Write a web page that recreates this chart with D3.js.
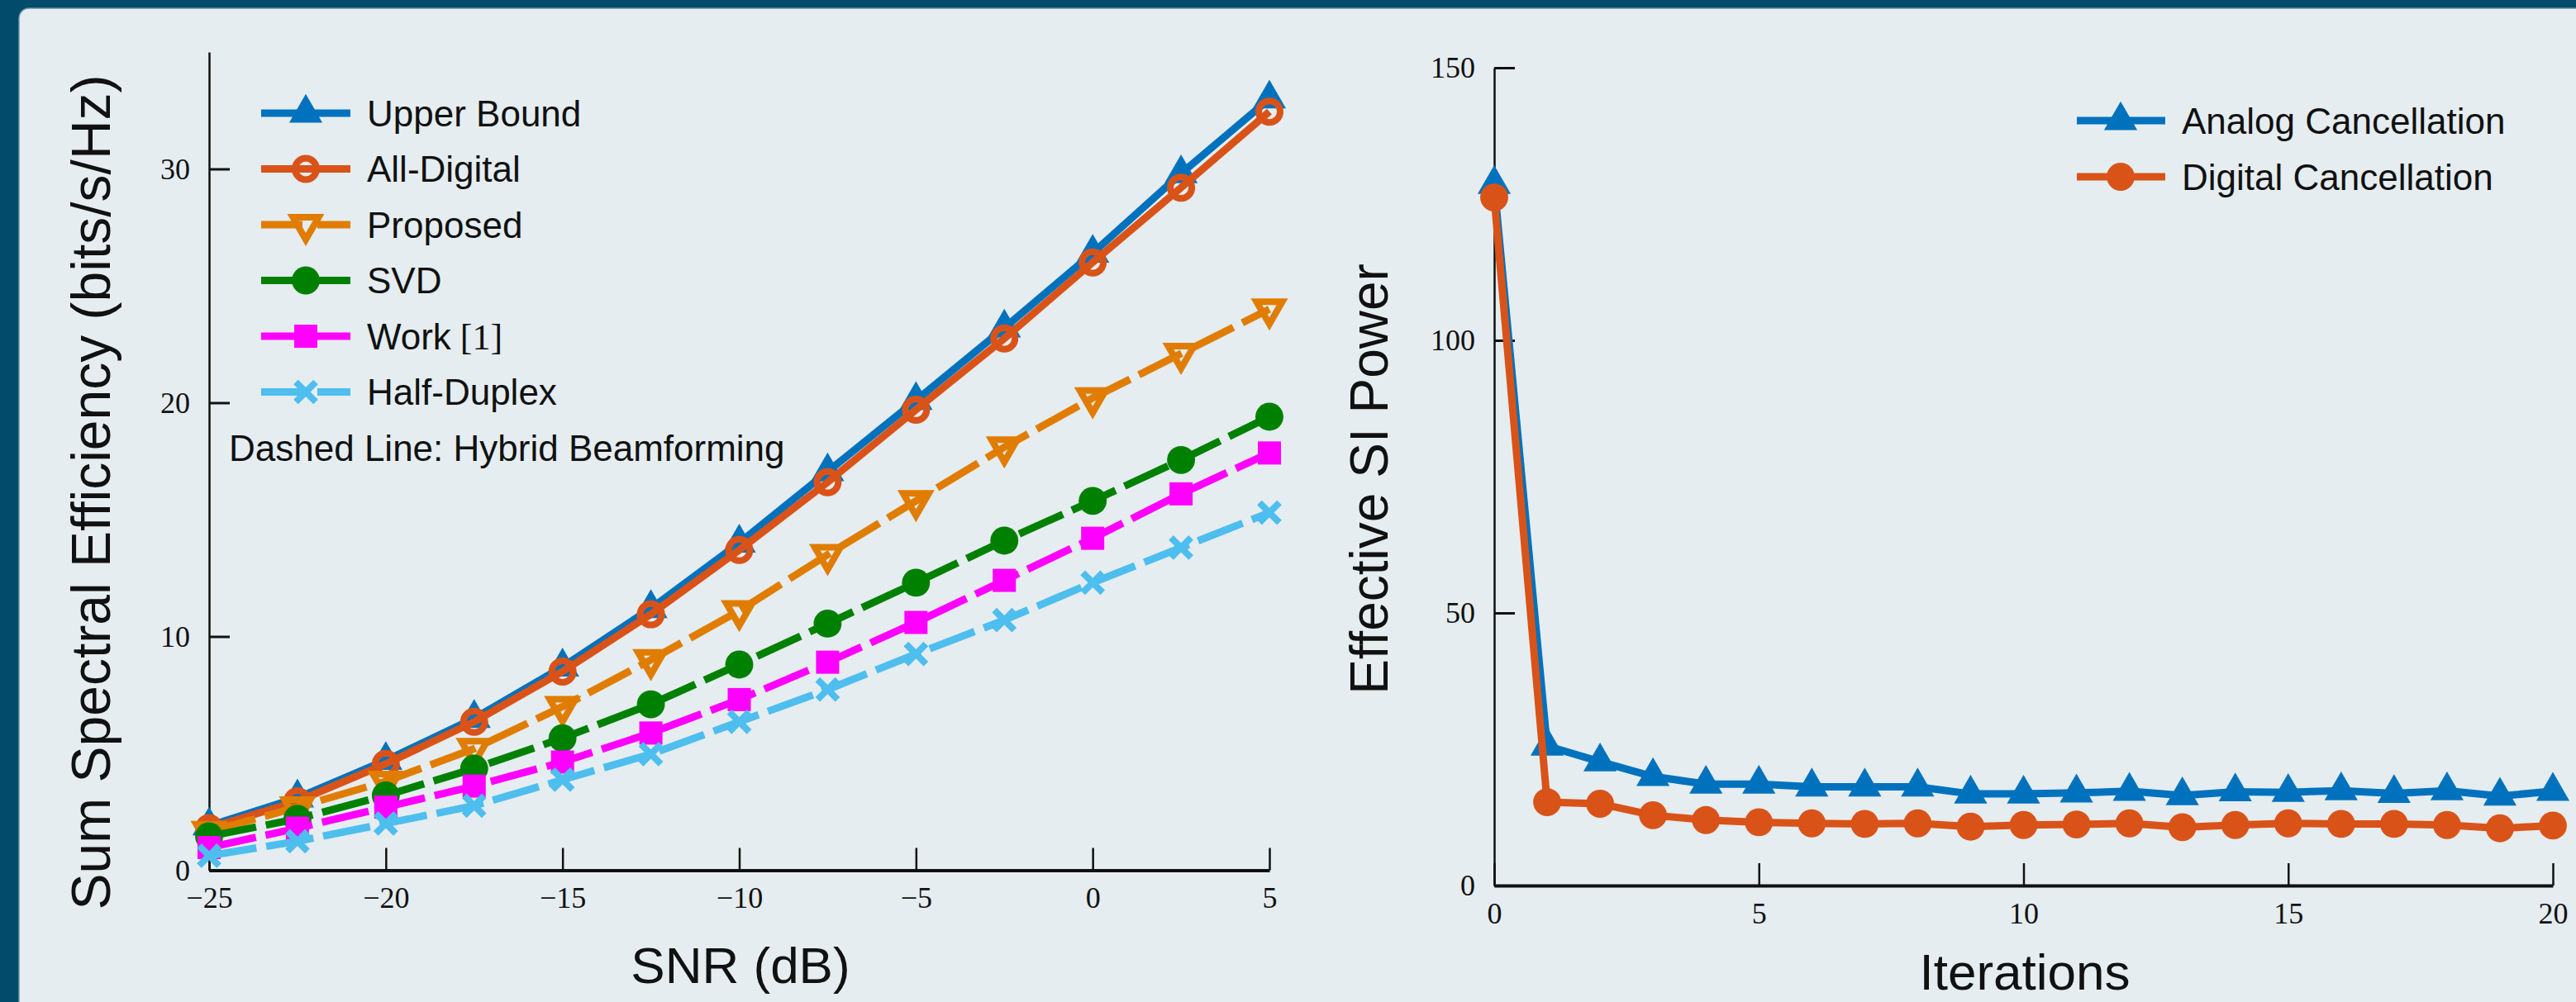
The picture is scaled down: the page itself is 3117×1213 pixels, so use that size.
<!DOCTYPE html>
<html>
<head>
<meta charset="utf-8">
<script src="https://cdnjs.cloudflare.com/ajax/libs/d3/7.8.5/d3.min.js"></script>
<style>
body { margin: 0; background: #024b6a; }
svg text { fill: #111; }
.tick text { font-family: "Liberation Serif", "DejaVu Serif", serif; font-size: 36px; fill: #111; }
</style>
</head>
<body>
<svg id="fig" width="3117" height="1213"></svg>
<script>
// left panel: sum spectral efficiency vs SNR
var snr = [-25, -22.5, -20, -17.5, -15, -12.5, -10, -7.5, -5, -2.5, 0, 2.5, 5];
var upperBound = [1.9, 3.1, 4.7, 6.5, 8.7, 11.2, 14.0, 17.05, 20.1, 23.2, 26.4, 29.8, 33.0];
var allDigital = [1.8, 2.95, 4.55, 6.35, 8.5, 10.95, 13.7, 16.6, 19.7, 22.75, 26.0, 29.2, 32.45];
var proposed = [1.65, 2.7, 3.8, 5.2, 7.0, 9.0, 11.1, 13.5, 15.8, 18.1, 20.2, 22.1, 24.0];
var svd = [1.45, 2.2, 3.2, 4.35, 5.65, 7.1, 8.8, 10.55, 12.3, 14.1, 15.8, 17.55, 19.4];
var work1 = [0.97, 1.8, 2.7, 3.6, 4.63, 5.87, 7.3, 8.9, 10.6, 12.4, 14.2, 16.1, 17.85];
var halfDuplex = [0.62, 1.24, 2.0, 2.76, 3.87, 4.97, 6.35, 7.73, 9.25, 10.7, 12.3, 13.8, 15.3];
var snrTicks = [-25, -20, -15, -10, -5, 0, 5];
var seTicks = [0, 10, 20, 30];

// right panel: effective SI power vs iterations
var iterations = d3.range(0, 21);
var analogSI = [128.6, 25.6, 22.7, 20.0, 18.6, 18.6, 18.1, 18.1, 18.1, 16.8, 16.8, 17.0, 17.3, 16.5, 17.2, 17.1, 17.4, 16.9, 17.4, 16.4, 17.3];
var digitalSI = [126.2, 15.3, 15.0, 12.9, 12.0, 11.6, 11.4, 11.3, 11.4, 10.8, 11.1, 11.2, 11.4, 10.7, 11.1, 11.4, 11.3, 11.3, 11.1, 10.5, 11.0];
var iterTicks = [0, 5, 10, 15, 20];
var siTicks = [0, 50, 100, 150];

var svg = d3.select("#fig");
var dash = "58,12";

svg.append("rect").attr("width", 3117).attr("height", 1213).attr("fill", "#024b6a");
svg.append("rect").attr("x", 23).attr("y", 10).attr("width", 3200).attr("height", 1300)
	.attr("rx", 12).attr("fill", "#e5edf0").attr("stroke", "#6a97ab").attr("stroke-width", 1.5);

var sans = "'Liberation Sans', Arial, sans-serif";
var serif = "'Liberation Serif', 'DejaVu Serif', serif";

function markerPath(type) {
	if (type == "tri") return d3.symbol(d3.symbolTriangle, 700)();
	if (type == "tridown") return d3.symbol(d3.symbolTriangle, 420)();
	if (type == "circle") return d3.symbol(d3.symbolCircle, 900)();
	if (type == "ring") return d3.symbol(d3.symbolCircle, 530)();
	if (type == "square") return d3.symbol(d3.symbolSquare, 784)();
	if (type == "x") return d3.symbol(d3.symbolX, 380)();
}

function drawMarker(sel, s, px, py) {
	var m = sel.append("path").attr("d", markerPath(s.marker))
		.attr("transform", "translate(" + px + "," + py + ")" + (s.marker == "tridown" ? " rotate(180)" : ""));
	if (s.marker == "ring" || s.marker == "tridown" || s.marker == "x") {
		m.attr("fill", "none").attr("stroke", s.color).attr("stroke-width", 8)
			.attr("stroke-linejoin", "miter");
	} else {
		m.attr("fill", s.color);
	}
}

function drawAxes(g, x, y, xr, yr, xMajor, xMinor, yMajor, yMinor) {
	var gx = g.append("g").attr("transform", "translate(0," + yr[0] + ")");
	gx.call(d3.axisBottom(x).tickValues(xMinor).tickSize(-20).tickSizeOuter(0).tickFormat(""));
	gx.call(d3.axisBottom(x).tickValues(xMajor).tickSize(-27).tickSizeOuter(0).tickPadding(20));
	gx.selectAll(".domain").attr("stroke", "#111").attr("stroke-width", 4);
	gx.selectAll("line").attr("stroke", "#111").attr("stroke-width", 2.5);

	var gy = g.append("g").attr("transform", "translate(" + xr[0] + ",0)");
	gy.call(d3.axisLeft(y).tickValues(yMinor).tickSize(-19).tickSizeOuter(0).tickFormat(""));
	gy.call(d3.axisLeft(y).tickValues(yMajor).tickSize(-25).tickSizeOuter(0).tickPadding(23));
	gy.selectAll(".domain").attr("stroke", "#111").attr("stroke-width", 2.5);
	gy.selectAll("line").attr("stroke", "#111").attr("stroke-width", 3);
	g.selectAll(".tick text").attr("fill", "#111");
}

// ---------- left chart ----------
var xL = d3.scaleLinear().domain([-25, 5]).range([253, 1536]);
var yL = d3.scaleLinear().domain([0, 35]).range([1053.5, 63]);
var gL = svg.append("g");
drawAxes(gL, xL, yL, [253, 1536], [1053.5, 63], snrTicks, d3.range(-25, 5.1, 2.5), seTicks, [5, 15, 25, 35]);

var leftSeries = [
	{name: "Upper Bound", vals: upperBound, color: "#0072bd", marker: "tri", dashed: false},
	{name: "All-Digital", vals: allDigital, color: "#d95319", marker: "ring", dashed: false},
	{name: "Proposed", vals: proposed, color: "#e07d00", marker: "tridown", dashed: true},
	{name: "SVD", vals: svd, color: "#008000", marker: "circle", dashed: true},
	{name: "Work", vals: work1, color: "#ff00ff", marker: "square", dashed: true},
	{name: "Half-Duplex", vals: halfDuplex, color: "#4dbeee", marker: "x", dashed: true}
];

var lineL = d3.line().x(function(d) { return xL(d[0]); }).y(function(d) { return yL(d[1]); });
leftSeries.forEach(function(s) {
	var pts = snr.map(function(v, i) { return [v, s.vals[i]]; });
	var g = gL.append("g");
	g.append("path").attr("d", lineL(pts)).attr("fill", "none")
		.attr("stroke", s.color).attr("stroke-width", 9)
		.attr("stroke-dasharray", s.dashed ? dash : null);
	pts.forEach(function(p) { drawMarker(g, s, xL(p[0]), yL(p[1])); });
});

// left legend
leftSeries.forEach(function(s, i) {
	var cy = 137 + i * 67.5;
	var g = gL.append("g");
	g.append("line").attr("x1", 316).attr("x2", 424).attr("y1", cy).attr("y2", cy)
		.attr("stroke", s.color).attr("stroke-width", 9)
		.attr("stroke-dasharray", s.dashed ? "50,18,60" : null);
	drawMarker(g, s, 370, cy);
	var t = g.append("text").attr("x", 444).attr("y", cy).attr("dy", "0.36em")
		.style("font-family", sans).style("font-size", "44px").text(s.name);
	if (s.name == "Work") {
		t.append("tspan").style("font-family", serif).text(" [1]");
	}
});
gL.append("text").attr("x", 277).attr("y", 542).attr("dy", "0.36em")
	.style("font-family", sans).style("font-size", "44px").text("Dashed Line: Hybrid Beamforming");

gL.append("text").attr("x", 896).attr("y", 1190).attr("text-anchor", "middle")
	.style("font-family", sans).style("font-size", "62px").text("SNR (dB)");
gL.append("text").attr("transform", "translate(133,596) rotate(-90)").attr("text-anchor", "middle")
	.style("font-family", sans).style("font-size", "66px").text("Sum Spectral Efficiency (bits/s/Hz)");

// ---------- right chart ----------
var xR = d3.scaleLinear().domain([0, 20]).range([1808, 3089]);
var yR = d3.scaleLinear().domain([0, 150]).range([1072, 82]);
var gR = svg.append("g");
drawAxes(gR, xR, yR, [1808, 3089], [1072, 82], iterTicks, [2.5, 7.5, 12.5, 17.5], siTicks, [25, 75, 125]);

var rightSeries = [
	{name: "Analog Cancellation", vals: analogSI, color: "#0072bd", marker: "tri"},
	{name: "Digital Cancellation", vals: digitalSI, color: "#d95319", marker: "circle"}
];
var lineR = d3.line().x(function(d) { return xR(d[0]); }).y(function(d) { return yR(d[1]); });
rightSeries.forEach(function(s) {
	var pts = iterations.map(function(v, i) { return [v, s.vals[i]]; });
	var g = gR.append("g");
	g.append("path").attr("d", lineR(pts)).attr("fill", "none")
		.attr("stroke", s.color).attr("stroke-width", 9);
	pts.forEach(function(p) { drawMarker(g, s, xR(p[0]), yR(p[1])); });
});
rightSeries.forEach(function(s, i) {
	var cy = 146 + i * 68;
	var g = gR.append("g");
	g.append("line").attr("x1", 2513).attr("x2", 2620).attr("y1", cy).attr("y2", cy)
		.attr("stroke", s.color).attr("stroke-width", 9);
	drawMarker(g, s, 2566, cy);
	g.append("text").attr("x", 2640).attr("y", cy).attr("dy", "0.36em")
		.style("font-family", sans).style("font-size", "44px").text(s.name);
});

gR.append("text").attr("x", 2450).attr("y", 1198).attr("text-anchor", "middle")
	.style("font-family", sans).style("font-size", "62px").text("Iterations");
gR.append("text").attr("transform", "translate(1679,580) rotate(-90)").attr("text-anchor", "middle")
	.style("font-family", sans).style("font-size", "64px").text("Effective SI Power");
</script>
</body>
</html>
